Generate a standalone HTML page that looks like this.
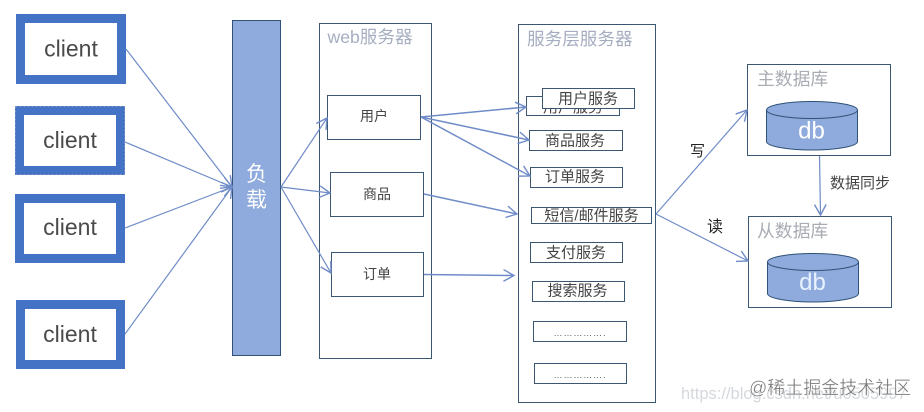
<!DOCTYPE html>
<html><head><meta charset="utf-8">
<style>
html,body{margin:0;padding:0;background:#fff;}
svg{display:block;filter:blur(0.3px);}
text{font-family:"Liberation Sans","Noto Sans CJK SC",sans-serif;}
</style></head>
<body>
<svg width="924" height="412" viewBox="0 0 924 412" xmlns="http://www.w3.org/2000/svg">
<defs>
<marker id="a" markerUnits="userSpaceOnUse" markerWidth="14" markerHeight="14" refX="10" refY="6" orient="auto" viewBox="0 0 12 12">
<path d="M1 1 L10 6 L1 11" fill="none" stroke="#6f8cc8" stroke-width="1.2"/>
</marker>
</defs>
<rect width="924" height="412" fill="#fff"/>

<!-- clients -->
<g fill="#fff" stroke="#4472c4" stroke-width="9">
<rect x="20.5" y="18.5" width="101" height="61"/>
<rect x="19.5" y="110.5" width="101" height="60"/>
<rect x="19.5" y="198.5" width="101" height="60"/>
<rect x="20.5" y="304.5" width="100" height="60"/>
</g>
<rect x="15.5" y="106.5" width="109" height="68" fill="none" stroke="#7a94c8" stroke-width="1" stroke-dasharray="2 2"/>
<g font-size="23" fill="#4a4a4a" text-anchor="middle">
<text x="71" y="56.500">client</text>
<text x="70" y="148">client</text>
<text x="70" y="235">client</text>
<text x="70" y="342">client</text>
</g>

<!-- load balancer -->
<rect x="232.500" y="20.500" width="48" height="335" fill="#8faadc" stroke="#2f5278" stroke-width="1"/>
<text x="256.500" y="181" font-size="21" fill="#fff" text-anchor="middle">负</text>
<text x="256.500" y="207" font-size="21" fill="#fff" text-anchor="middle">载</text>

<!-- containers -->
<g fill="none" stroke="#3b5670" stroke-width="1">
<rect x="319.500" y="23.500" width="112" height="335"/>
<rect x="518.500" y="24.500" width="137" height="378"/>
<rect x="747.500" y="64.500" width="143" height="91"/>
<rect x="748.500" y="216.500" width="143" height="91"/>
</g>
<text x="327.500" y="43" font-size="17.600" fill="#a5adc0">web服务器</text>
<text x="527" y="45" font-size="17.600" fill="#a5adc0">服务层服务器</text>
<text x="757" y="85" font-size="17.800" fill="#a8acb4">主数据库</text>
<text x="757" y="237" font-size="17.800" fill="#a8acb4">从数据库</text>

<!-- web nodes -->
<g fill="#fff" stroke="#3b5670" stroke-width="1">
<rect x="327.500" y="95.500" width="93" height="44"/>
<rect x="330.500" y="172.500" width="93" height="44"/>
<rect x="331.500" y="252.500" width="92" height="44"/>
</g>
<g font-size="14" fill="#444" text-anchor="middle">
<text x="374" y="121">用户</text>
<text x="377" y="199">商品</text>
<text x="377" y="279">订单</text>
</g>

<!-- service nodes -->
<g fill="#fff" stroke="#3b5670" stroke-width="1">
<rect x="526.500" y="96.500" width="93" height="19"/>
</g>
<text x="573" y="112" font-size="15" fill="#444" text-anchor="middle">用户服务</text>
<g fill="#fff" stroke="#3b5670" stroke-width="1">
<rect x="542.500" y="88.500" width="92" height="20"/>
<rect x="529.500" y="130.500" width="93" height="20"/>
<rect x="530.500" y="167.500" width="92" height="20"/>
<rect x="531.500" y="207.500" width="120" height="16"/>
<rect x="530.500" y="242.500" width="92" height="20"/>
<rect x="532.500" y="281.500" width="92" height="20"/>
<rect x="533.500" y="321.500" width="93" height="20"/>
<rect x="534.500" y="363.500" width="92" height="20"/>
</g>
<g font-size="15" fill="#444" text-anchor="middle">
<text x="588" y="103.500">用户服务</text>
<text x="575" y="145.500">商品服务</text>
<text x="575" y="181.500">订单服务</text>
<text x="591.500" y="220.500">短信/邮件服务</text>
<text x="576" y="257.500">支付服务</text>
<text x="577.500" y="295.500">搜索服务</text>
</g>
<g font-size="9" fill="#555" text-anchor="middle" letter-spacing="0.900">
<text x="580" y="336">…………….</text>
<text x="580" y="378">…………….</text>
</g>

<!-- databases -->
<g fill="#8faadc" stroke="#2f5278" stroke-width="1">
<path d="M766.500 110 V141.500 A45.500 8.500 0 0 0 857.500 141.500 V110"/>
<ellipse cx="812" cy="110" rx="45.500" ry="8.500"/>
<path d="M767.500 262 V293.500 A45.500 8.500 0 0 0 858.500 293.500 V262"/>
<ellipse cx="813" cy="262" rx="45.500" ry="8.500"/>
</g>
<text x="811.500" y="138.500" font-size="24" fill="#fff" text-anchor="middle">db</text>
<text x="812.500" y="290" font-size="24" fill="#e8f2ff" text-anchor="middle">db</text>

<!-- connectors -->
<g fill="none" stroke="#6f8cc8" stroke-width="1.200">
<line x1="126" y1="49" x2="232" y2="187" marker-end="url(#a)"/>
<line x1="125" y1="142" x2="232" y2="187" marker-end="url(#a)"/>
<line x1="125" y1="228" x2="232" y2="187" marker-end="url(#a)"/>
<line x1="125" y1="334" x2="232" y2="187" marker-end="url(#a)"/>
<line x1="281" y1="187" x2="327" y2="118" marker-end="url(#a)"/>
<line x1="281" y1="187" x2="330" y2="193" marker-end="url(#a)"/>
<line x1="281" y1="187" x2="331" y2="273" marker-end="url(#a)"/>
<line x1="421" y1="117" x2="526" y2="107" stroke-width="1.500" marker-end="url(#a)"/>
<line x1="421" y1="117" x2="529" y2="140" stroke-width="1.500" marker-end="url(#a)"/>
<line x1="421" y1="117" x2="530" y2="176" stroke-width="1.500" marker-end="url(#a)"/>
<line x1="424" y1="194" x2="517" y2="214" stroke-width="1.500" marker-end="url(#a)"/>
<line x1="424" y1="274.500" x2="514" y2="275.500" stroke-width="1.500" marker-end="url(#a)"/>
<line x1="656" y1="214" x2="747" y2="110" marker-end="url(#a)"/>
<line x1="656" y1="214" x2="748" y2="261" marker-end="url(#a)"/>
<line x1="819.500" y1="156" x2="820.500" y2="215" marker-end="url(#a)"/>
</g>

<!-- labels -->
<text x="690" y="156" font-size="15" fill="#222">写</text>
<text x="707" y="232" font-size="16" fill="#222">读</text>
<text x="830" y="188" font-size="15" fill="#444">数据同步</text>

<!-- watermark -->
<text x="681" y="399" font-size="16.500" fill="#d4d8dc">https://blog.csdn.net/u0505997</text>
<text x="749" y="394" font-size="18" fill="#777" stroke="#fff" stroke-width="0.300">@稀土掘金技术社区</text>
</svg>
</body></html>
